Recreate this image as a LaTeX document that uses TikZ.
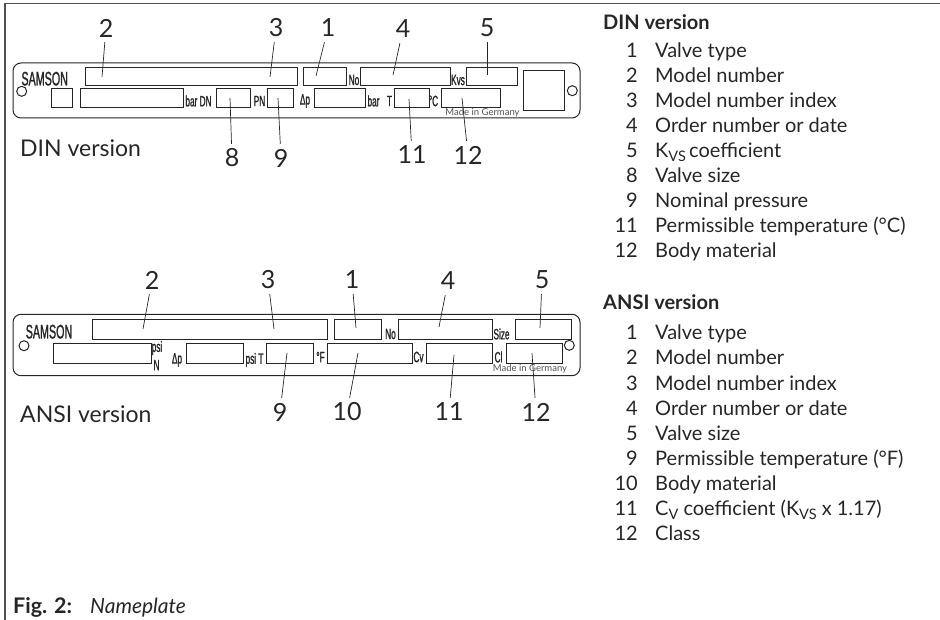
\documentclass[tikz,border=0pt]{standalone}
\usepackage{fontspec}
\setmainfont{Lato}
\newfontfamily\platefont[FakeStretch=0.55,FakeBold=1.2]{Liberation Sans}
\usepackage{xcolor}
\usepackage{tikz}
\definecolor{inkc}{HTML}{262626}
\newcommand{\lowtxt}[1]{\raisebox{-4pt}{\fontsize{14.5}{14}\selectfont #1}}
\begin{document}
\begin{tikzpicture}[x=1pt, y=-1pt,
    plate/.style={draw=inkc, line width=1pt, rounded corners=8pt, minimum width=567pt, outer sep=0pt, inner sep=0pt},
    field/.style={draw=inkc, line width=1pt, outer sep=0pt, inner sep=0pt},
    hole/.style={draw=inkc, line width=1pt, circle, minimum size=10pt, inner sep=0pt},
    num/.style={font=\fontsize{25}{25}\selectfont, text=inkc, inner sep=0pt, minimum height=28pt},
    leader/.style={draw=inkc, line width=0.7pt},
    brand/.style={font=\platefont\fontsize{19.5}{20}\selectfont, text=inkc, inner sep=0pt},
    plbl/.style={font=\platefont\fontsize{15}{15}\selectfont, text=inkc, inner sep=0pt},
    madein/.style={font=\fontsize{9.5}{10}\selectfont, text=inkc!80, inner sep=0pt},
    version/.style={font=\fontsize{23}{24}\selectfont, text=inkc, inner sep=0pt, anchor=base west},
    head/.style={font=\bfseries\fontsize{20}{20}\selectfont, text=inkc, inner sep=0pt, anchor=base west},
    rownum/.style={font=\fontsize{20}{20}\selectfont, text=inkc, inner sep=0pt, anchor=base east},
    rowtxt/.style={font=\fontsize{20}{20}\selectfont, text=inkc, inner sep=0pt, anchor=base west},
]
\useasboundingbox (0,0) rectangle (940,620);
% frame
\coordinate (frameA) at (5,620);
\coordinate (frameB) at (5,3.5);
\coordinate (frameC) at (940,3.5);
\draw[draw=inkc!80, line width=1.2pt] (frameA) -- (frameB) -- (frameC);

% DIN plate
\node[plate, minimum height=55pt] (dinplate) at (296.5,90.5) {};
\node[hole] (dinholeL) at (21.7,91.3) {};
\node[hole] (dinholeR) at (572.3,90.7) {};
\node[field, minimum width=40.6pt, minimum height=40.3pt] (dinsquare) at (544,90.8) {};
\foreach \nm/\xa/\xb in {dinmodel/85.5/297.5, dintype/303.3/346, dinorder/360.7/450, dinkvs/466.7/517.7}
    \node[field, minimum width={(\xb-\xa)*1pt}, minimum height=18.4pt] (\nm) at ({(\xa+\xb)/2},76.8) {};
\foreach \nm/\xa/\xb in {dinbox/51.3/72.7, dinbar/80.7/183, dindn/216.3/250.7, dinpn/267.3/293.7, dindp/314/365.7, dintemp/394.3/429, dinbody/441.3/500.7}
    \node[field, minimum width={(\xb-\xa)*1pt}, minimum height=19pt] (\nm) at ({(\xa+\xb)/2},98.2) {};
\node[brand] (dinbrand) at (44.7,78.7) {SAMSON};
\node[plbl] (dinlbar) at (198.5,101) {bar DN};
\node[plbl] (dinlpn) at (259.5,101) {PN};
\node[plbl] (dinldp) at (305,101) {Δp};
\node[plbl] (dinlbarb) at (373.5,101) {bar};
\node[plbl] (dinlt) at (389.5,101) {T};
\node[plbl] (dinlc) at (433.5,101) {°C};
\node[plbl] (dinlno) at (354,80) {No};
\node[plbl] (dinlkvs) at (458,80) {Kvs};
\node[madein] (dinmade) at (482.5,113) {Made in Germany};
\node[version] (dinver) at (20,157) {DIN version};

% DIN numbers
\foreach \nm/\txt/\xa/\ya/\xb/\yb in {a2/2/106/28/102/77, a3/3/276/28/270/77, a1/1/328/28/316/76, a4/4/403/29/393/75, a5/5/487/28/487/75, a8/8/232/158/230/98, a9/9/281/158/278/98, a11/11/412/155/409/99, a12/12/468/155/462/98}{
    \node[num] (\nm) at (\xa,\ya) {\txt};
    \coordinate (\nm end) at (\xb,\yb);
    \draw[leader] (\nm) -- (\nm end);
}

% ANSI plate
\node[plate, minimum height=61.4pt] (ansiplate) at (296.5,345) {};
\node[hole] (ansiholeL) at (24,345.7) {};
\foreach \nm/\xa/\xb in {ansimodel/92.7/327.7, ansitype/334.3/381.7, ansiorder/398/492.3, ansisize/515.3/571.7}
    \node[field, minimum width={(\xb-\xa)*1pt}, minimum height=20pt] (\nm) at ({(\xa+\xb)/2},329.3) {};
\foreach \nm/\xa/\xb in {ansin/53/151.7, ansidp/186.7/243.3, ansitemp/266.7/313.7, ansibody/327.7/412.3, ansicv/426/492.3, ansicl/506/562.3}
    \node[field, minimum width={(\xb-\xa)*1pt}, minimum height=20pt] (\nm) at ({(\xa+\xb)/2},353.3) {};
\node[hole, fill=white] (ansiholeR) at (569.3,345.3) {};
\node[brand] (ansibrand) at (49,331.7) {SAMSON};
\node[plbl] (ansilpsi) at (157,348) {psi};
\node[plbl] (ansiln) at (156.5,365) {N};
\node[plbl] (ansildp) at (177,360) {Δp};
\node[plbl] (ansilpsit) at (254.5,360) {psi T};
\node[plbl] (ansilf) at (320.5,357) {°F};
\node[plbl] (ansilcv) at (418.5,357) {Cv};
\node[plbl] (ansilcl) at (498.5,357) {Cl};
\node[plbl] (ansilno) at (390.5,334) {No};
\node[plbl] (ansilsize) at (501.5,334) {Size};
\node[madein] (ansimade) at (530,369) {Made in Germany};
\node[version] (ansiver) at (20,422.5) {ANSI version};

% ANSI numbers
\foreach \nm/\txt/\xa/\ya/\xb/\yb in {b2/2/152/280/143/329, b3/3/268/280/274/329, b1/1/352/280/356/328, b4/4/448/281/439/327, b5/5/542/280/540/328, b9/9/280/412/287/353, b10/10/347/412/358/353, b11/11/449/412/454/355, b12/12/536/412/532/353}{
    \node[num] (\nm) at (\xa,\ya) {\txt};
    \coordinate (\nm end) at (\xb,\yb);
    \draw[leader] (\nm) -- (\nm end);
}

% lists
\node[head] (dinhead) at (603,30) {DIN version};
\foreach \n/\t [count=\i from 0] in {1/Valve type, 2/Model number, 3/Model number index, 4/Order number or date, 5/{K\lowtxt{VS}\,coefficient}, 8/Valve size, 9/Nominal pressure, 11/{Permissible temperature (°C)}, 12/Body material}{
    \node[rownum] (dinnum\i) at (638,{58+25*\i}) {\n};
    \node[rowtxt] (dintxt\i) at (655,{58+25*\i}) {\t};
}
\node[head] (ansihead) at (603,310) {ANSI version};
\foreach \n/\t [count=\i from 0] in {1/Valve type, 2/Model number, 3/Model number index, 4/Order number or date, 5/Valve size, 9/{Permissible temperature (°F)}, 10/Body material, 11/{C\lowtxt{V} coefficient (K\lowtxt{VS} x 1.17)}, 12/Class}{
    \node[rownum] (ansinum\i) at (638,{340+25*\i}) {\n};
    \node[rowtxt] (ansitxt\i) at (655,{340+25*\i}) {\t};
}
\node[head, font=\bfseries\fontsize{21.5}{20}\selectfont] (figlbl) at (13,613) {Fig. 2:};
\node[rowtxt, font=\itshape\fontsize{21}{20}\selectfont] (figcap) at (90,613) {Nameplate};
\end{tikzpicture}
\end{document}
